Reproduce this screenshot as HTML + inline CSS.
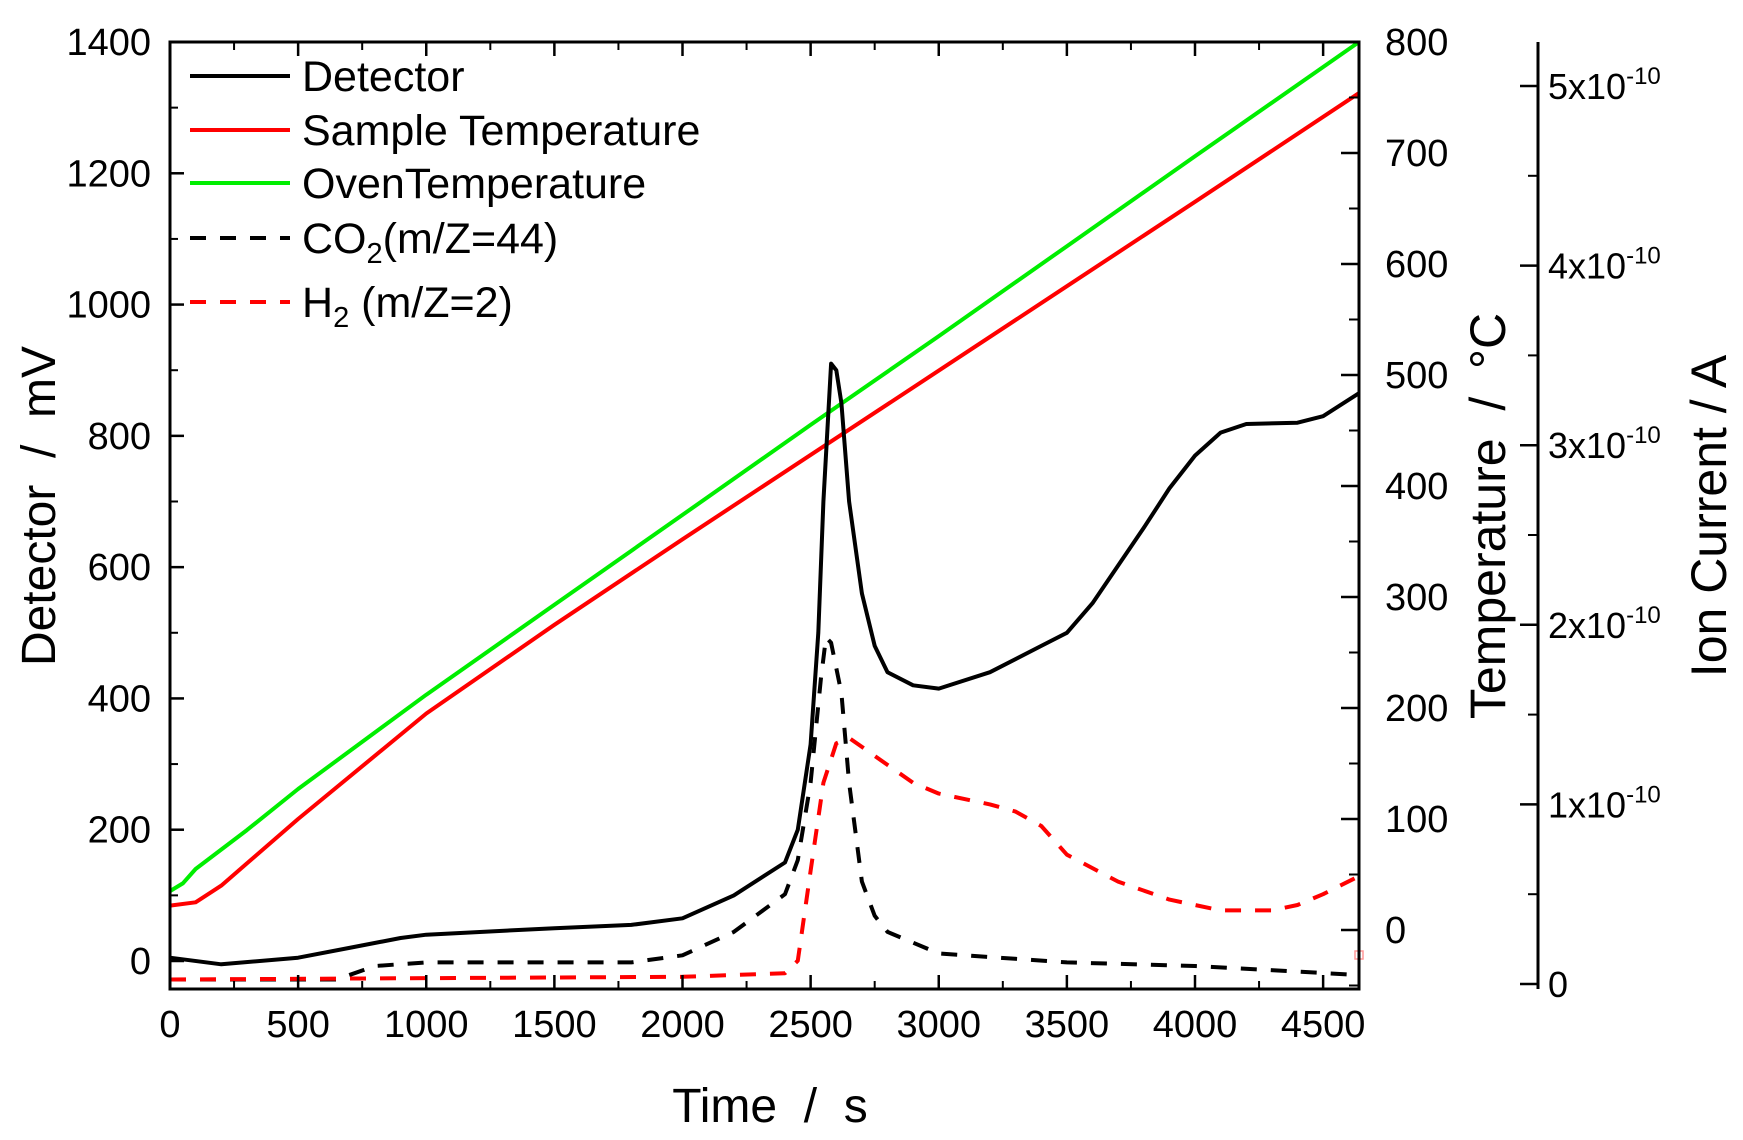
<!DOCTYPE html>
<html><head><meta charset="utf-8"><style>
html,body{margin:0;padding:0;background:#fff}
svg{display:block;font-family:"Liberation Sans",Arial,sans-serif}
.pre{white-space:pre}
</style></head><body>
<svg id="chart" width="1743" height="1140" viewBox="0 0 1743 1140" xmlns="http://www.w3.org/2000/svg">
<g id="marks"></g>
<g id="axes"></g>
<g id="legend"></g>
</svg>
<script>
const detT=[0,200,500,700,900,1000,1500,1800,2000,2200,2400,2450,2500,2530,2550,2580,2600,2620,2650,2700,2750,2800,2900,3000,3200,3400,3500,3600,3800,3900,4000,4100,4200,4400,4500,4640];
const detV=[5,-5,5,20,35,40,50,55,65,100,150,200,330,500,700,910,900,850,700,560,480,440,420,415,440,480,500,545,660,720,770,805,818,820,830,865];
const sampleT=[0,100,200,300,500,1000,1500,2000,2500,3000,3500,4000,4640];
const sampleV=[22,25,40,60,100,195,275,352,428,504,580,656,754];
const ovenT=[0,50,100,300,500,1000,1500,2000,2500,3000,3500,4000,4640];
const ovenV=[35,42,55,90,127,212,293,374,455,535,616,697,800];
const co2T=[0,650,800,1000,1500,1800,2000,2200,2400,2450,2500,2540,2560,2580,2620,2650,2700,2750,2800,3000,3500,4000,4640];
const co2V=[0.025,0.025,0.1,0.12,0.12,0.12,0.16,0.29,0.5,0.69,1.12,1.7,1.93,1.9,1.62,1.12,0.57,0.38,0.29,0.17,0.12,0.1,0.05];
const h2T=[0,2000,2400,2450,2500,2550,2600,2650,2800,2900,3000,3200,3300,3400,3500,3700,3900,4100,4300,4400,4500,4640];
const h2V=[0.025,0.04,0.06,0.13,0.63,1.12,1.34,1.37,1.22,1.12,1.06,1.0,0.96,0.88,0.72,0.57,0.47,0.41,0.41,0.44,0.5,0.6];
const xTicks=[0,500,1000,1500,2000,2500,3000,3500,4000,4500];
const mvTicks=[0,200,400,600,800,1000,1200,1400];
const tempTicks=[0,100,200,300,400,500,600,700,800];
const ionTicks=[0,1,2,3,4,5];

const L=170,R=1359,T=42,B=989,IX=1538;
const x=t=>L+(t/4640)*(R-L);
const yMV=v=>961-v*(961-42)/1400;
const yT=v=>930-v*(930-153)/700;
const yI=v=>984-v*(984-86)/5;
const NS="http://www.w3.org/2000/svg";
function mk(tag,attrs,parent,text){const e=document.createElementNS(NS,tag);for(const k in attrs)e.setAttribute(k,attrs[k]);if(text!==undefined)e.textContent=text;parent.appendChild(e);return e;}
const marks=document.getElementById('marks'),axes=document.getElementById('axes'),leg=document.getElementById('legend');
function series(ts,vs,yf,color,dash,name){
  const d=ts.map((t,i)=>(i?'L':'M')+x(t).toFixed(1)+','+yf(vs[i]).toFixed(1)).join(' ');
  const p=mk('path',{d:d,fill:'none',stroke:color,'stroke-width':4,'stroke-linejoin':'round'},marks);
  if(dash)p.setAttribute('stroke-dasharray',dash);
  
  
}
series(ovenT,ovenV,yT,'#00ee00',null,'oven-temperature-line');
series(sampleT,sampleV,yT,'#ff0000',null,'sample-temperature-line');
series(co2T,co2V,yI,'#000',"16,14",'co2-line');
series(h2T,h2V,yI,'#ff0000',"16,14",'h2-line');
series(detT,detV,yMV,'#000',null,'detector-line');
mk('rect',{x:1355,y:951,width:8,height:8,fill:'none',stroke:'#f99','stroke-width':1.5},marks);

const fr=mk('rect',{x:L,y:T,width:R-L,height:B-T,fill:'none',stroke:'#000','stroke-width':3},axes);

const fs=38;
xTicks.forEach(t=>{const X=x(t);mk('line',{x1:X,y1:B,x2:X,y2:B-14,stroke:'#000','stroke-width':2.5},axes);mk('line',{x1:X,y1:T,x2:X,y2:T+14,stroke:'#000','stroke-width':2.5},axes);
  const tx=mk('text',{x:X,y:B+48,'font-size':fs,'text-anchor':'middle'},axes,t);});
for(let t=250;t<4640;t+=500){const X=x(t);mk('line',{x1:X,y1:B,x2:X,y2:B-8,stroke:'#000','stroke-width':2},axes);mk('line',{x1:X,y1:T,x2:X,y2:T+8,stroke:'#000','stroke-width':2},axes);}
mvTicks.forEach(v=>{const Y=yMV(v);mk('line',{x1:L,y1:Y,x2:L+14,y2:Y,stroke:'#000','stroke-width':2.5},axes);
  const tx=mk('text',{x:151,y:Y+13,'font-size':fs,'text-anchor':'end'},axes,v);});
for(let v=100;v<1400;v+=200){const Y=yMV(v);mk('line',{x1:L,y1:Y,x2:L+8,y2:Y,stroke:'#000','stroke-width':2},axes);}
tempTicks.forEach(v=>{const Y=yT(v);mk('line',{x1:R,y1:Y,x2:R-18,y2:Y,stroke:'#000','stroke-width':2.5},axes);
  const tx=mk('text',{x:1385,y:Y+13,'font-size':fs},axes,v);});
for(let v=-50;v<800;v+=100){const Y=yT(v);if(Y>T&&Y<B)mk('line',{x1:R,y1:Y,x2:R-10,y2:Y,stroke:'#000','stroke-width':2},axes);}
mk('line',{x1:IX,y1:T,x2:IX,y2:B,stroke:'#000','stroke-width':3},axes);
ionTicks.forEach(v=>{const Y=yI(v);mk('line',{x1:IX,y1:Y,x2:IX-18,y2:Y,stroke:'#000','stroke-width':2.5},axes);
  const tx=mk('text',{x:1548,y:Y+13,'font-size':36},axes);
  if(v===0){tx.textContent='0';}else{mk('tspan',{},tx,v+'x10');mk('tspan',{dy:-15,'font-size':24},tx,'-10');}});
for(let v=0.5;v<5.2;v+=1){const Y=yI(v);mk('line',{x1:IX,y1:Y,x2:IX-10,y2:Y,stroke:'#000','stroke-width':2},axes);}

function title(txt,X,Y,rot,fsz,name){const t=mk('text',{x:X,y:Y,'font-size':fsz,'text-anchor':'middle',class:'pre',transform:rot?`rotate(-90 ${X} ${Y})`:''},axes,txt);}
title('Detector  /  mV',55,506,true,48,'left-axis-title');
title('Temperature  /  °C',1505,516,true,50,'temperature-axis-title');
title('Ion Current / A',1726,516,true,50,'ion-axis-title');
title('Time  /  s',770,1122,false,48,'x-axis-title');

const legItems=[['Detector','#000',null,76],['Sample Temperature','#ff0000',null,130],['OvenTemperature','#00ee00',null,183],['CO2','#000',"16,14",238],['H2','#ff0000',"16,14",302]];
legItems.forEach(it=>{
  const g=mk('g',{},leg);
  const ln=mk('line',{x1:190,y1:it[3],x2:290,y2:it[3],stroke:it[1],'stroke-width':4},g);if(it[2])ln.setAttribute('stroke-dasharray',it[2]);
  const tx=mk('text',{x:302,y:it[3]+15,'font-size':43},g);
  if(it[0]==='CO2'){mk('tspan',{},tx,'CO');mk('tspan',{dy:10,'font-size':29},tx,'2');mk('tspan',{dy:-10},tx,'(m/Z=44)');}
  else if(it[0]==='H2'){mk('tspan',{},tx,'H');mk('tspan',{dy:10,'font-size':29},tx,'2');mk('tspan',{dy:-10},tx,' (m/Z=2)');}
  else tx.textContent=it[0];
});
</script>
</body></html>
